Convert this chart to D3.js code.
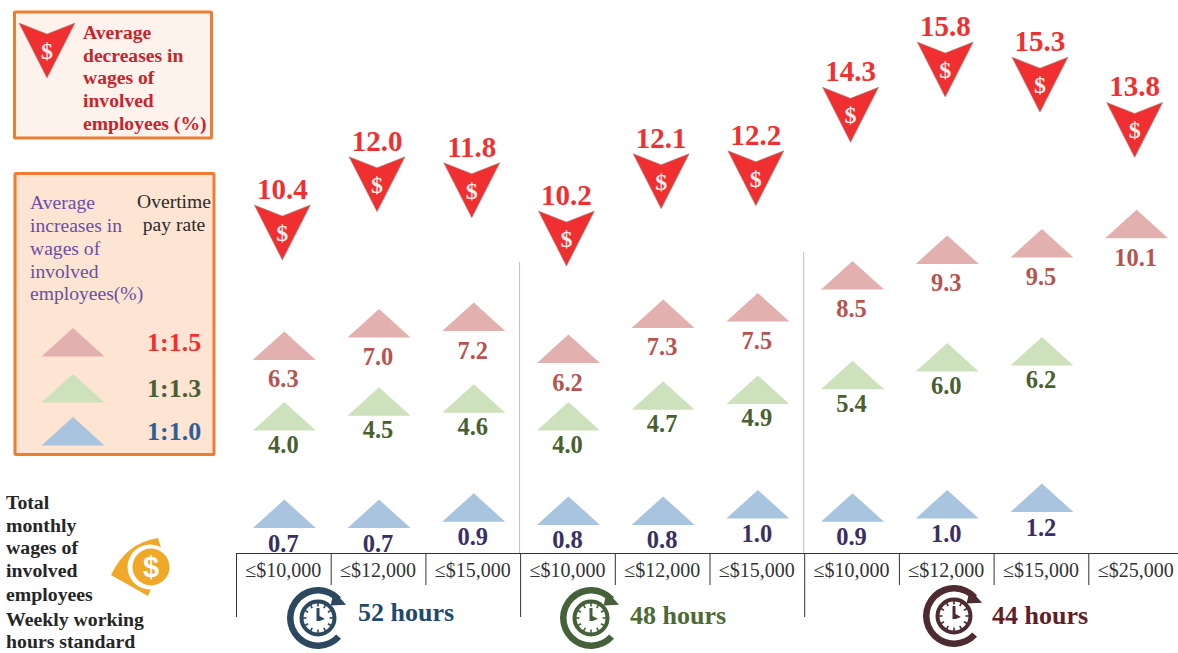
<!DOCTYPE html>
<html><head><meta charset="utf-8">
<script src="https://cdn.jsdelivr.net/npm/d3@7"></script>
<style>html,body{margin:0;padding:0;background:#fff;overflow:hidden}svg{display:block}text{font-family:"Liberation Serif",serif}</style>
</head><body><div id="c"></div>
<script>
const wageLimits = ["≤$10,000","≤$12,000","≤$15,000","≤$10,000","≤$12,000","≤$15,000","≤$10,000","≤$12,000","≤$15,000","≤$25,000"];
const decreases = [10.4,12.0,11.8,10.2,12.1,12.2,14.3,15.8,15.3,13.8];
const rate15 = [6.3,7.0,7.2,6.2,7.3,7.5,8.5,9.3,9.5,10.1];
const rate13 = [4.0,4.5,4.6,4.0,4.7,4.9,5.4,6.0,6.2,null];
const rate10 = [0.7,0.7,0.9,0.8,0.8,1.0,0.9,1.0,1.2,null];
const hourGroups = ["52 hours","48 hours","44 hours"];
const hourColors = ["#1f4a6b","#4c6a35","#5f2125"];
const iconColors = ["#2c4760","#46603a","#4e2b30"];

const W=1178,H=653;
const svg=d3.select("#c").append("svg").attr("width",W).attr("height",H);
const x=d3.scaleBand().domain(d3.range(10)).range([236,1183]);
const cx=i=>x(i)+x.bandwidth()/2;
const yRed=d3.scaleLinear().domain([0,16]).range([519,36]);
const yPink=d3.scaleLinear().domain([0,16]).range([533,21]);
const yGreen=d3.scaleLinear().domain([0,16]).range([520,48]);
const yBlue=d3.scaleLinear().domain([0,16]).range([522,10]);

const upTri="M0,0L31.5,28.5L-31.5,28.5Z";
const downArrow="M-28,0L0,11L28,0L0,55Z";

// legend boxes
svg.append("rect").attr("x",14.5).attr("y",12).attr("width",197).attr("height",126).attr("rx",1)
  .attr("fill","#fdf3ec").attr("stroke","#ed7d31").attr("stroke-width",3);
svg.append("rect").attr("x",15).attr("y",173.5).attr("width",199).attr("height",281).attr("rx",1)
  .attr("fill","#fde4d3").attr("stroke","#ed7d31").attr("stroke-width",3);

function arrow(g,tx,ty){
  const a=g.append("g").attr("transform",`translate(${tx},${ty})`);
  a.append("path").attr("d",downArrow).attr("fill","#f03030").attr("stroke","#a08a8a").attr("stroke-width",.6);
  a.append("text").attr("y",36).attr("text-anchor","middle").attr("font-size",24).attr("font-weight","bold").attr("fill","#fdeeee").text("$");
}
function lines(list,xx,ys,opt){
  list.forEach((t,i)=>{
    const e=svg.append("text").attr("x",xx).attr("y",ys[i]).attr("font-size",opt.size).attr("fill",opt.fill).text(t);
    if(opt.bold)e.attr("font-weight","bold");
    if(opt.anchor)e.attr("text-anchor",opt.anchor);
  });
}
arrow(svg,47,23);
lines(["Average","decreases in","wages of","involved","employees (%)"],83,[39,62,84,107,130],{size:19.6,fill:"#c8242c",bold:true});
lines(["Average","increases in","wages of","involved","employees(%)"],30,[209,232,255,278,300],{size:19.6,fill:"#6b4fa5"});
lines(["Overtime","pay rate"],174,[208,231],{size:19.6,fill:"#2b2b2b",anchor:"middle"});
const legend=[{f:"#e2b1af",t:"1:1.5",c:"#f03030",y:328},{f:"#cde2bc",t:"1:1.3",c:"#4a6030",y:374},{f:"#a9c4df",t:"1:1.0",c:"#2f5f95",y:417}];
legend.forEach(d=>{
  svg.append("path").attr("transform",`translate(73,${d.y})`).attr("d",upTri).attr("fill",d.f);
  svg.append("text").attr("x",147).attr("y",d.y+23).attr("font-size",26).attr("font-weight","bold").attr("fill",d.c).text(d.t);
});
lines(["Total","monthly","wages of","involved","employees"],6,[509,532,554,577,601],{size:19.8,fill:"#262626",bold:true});
lines(["Weekly working","hours standard"],6,[626,648],{size:19.8,fill:"#262626",bold:true});

// orange money icon
const money=svg.append("g");
money.append("path").attr("d","M111,575Q126,543 158,538L161,548L152,587L148,596Z").attr("fill","#f0a828");
money.append("circle").attr("cx",150).attr("cy",567).attr("r",22.5).attr("fill","#fff");
money.append("circle").attr("cx",151).attr("cy",567).attr("r",18.5).attr("fill","#f0a828");
money.append("text").attr("x",151).attr("y",577).attr("text-anchor","middle").attr("font-size",29).attr("font-weight","bold").style("font-family","'Liberation Sans',sans-serif").attr("fill","#fff").text("$");

// separators
[[3,262],[6,252]].forEach(([i,top])=>{
  svg.append("line").attr("x1",x(i)-.5).attr("x2",x(i)-.5).attr("y1",top).attr("y2",553).attr("stroke","#bdbdbd");
});

// marks
const series=[
 {v:rate15,y:yPink,f:"#e2b1af",c:"#b85450",dy:56},
 {v:rate13,y:yGreen,f:"#cde2bc",c:"#4a6030",dy:51},
 {v:rate10,y:yBlue,f:"#a9c4df",c:"#3a2f63",dy:52}];
series.forEach(s=>{
  const data=s.v.map((v,i)=>({v,i})).filter(d=>d.v!==null);
  svg.append("g").selectAll("path").data(data).join("path")
    .attr("d",upTri).attr("fill",s.f)
    .attr("transform",d=>`translate(${cx(d.i)+1},${s.y(d.v)})`);
  svg.append("g").selectAll("text").data(data).join("text")
    .attr("x",d=>cx(d.i)).attr("y",d=>s.y(d.v)+s.dy)
    .attr("text-anchor","middle").attr("font-size",24.5).attr("font-weight","bold").attr("fill",s.c)
    .text(d=>d.v.toFixed(1));
});
decreases.forEach((v,i)=>{
  arrow(svg,cx(i)-1,yRed(v));
  svg.append("text").attr("x",cx(i)-1).attr("y",yRed(v)-6).attr("text-anchor","middle")
    .attr("font-size",29).attr("font-weight","bold").attr("fill","#f03030").text(v.toFixed(1));
});

// axis
const axis=d3.axisBottom(x).tickSize(0).tickFormat(i=>wageLimits[i]);
const ax=svg.append("g").attr("transform","translate(0,553)").call(axis);
ax.select(".domain").attr("stroke","#333").attr("stroke-width",1);
ax.selectAll("text").attr("y",24).attr("dy",0).attr("font-size",20).attr("fill","#333").style("font-family","'Liberation Serif',serif");
d3.range(10).forEach(i=>{
  const major=i%3===0&&i<9;
  svg.append("line").attr("x1",x(i)+.5).attr("x2",x(i)+.5).attr("y1",553).attr("y2",major?617:585).attr("stroke","#333");
});

// clocks
function clock(c,px,py){
  const g=svg.append("g").attr("transform",`translate(${px},${py})`);
  const rad=Math.PI/180;
  g.append("path").attr("d",d3.arc()({innerRadius:24.5,outerRadius:31,startAngle:132*rad,endAngle:(360+48)*rad})).attr("fill",c);
  const a=48*rad, rx=27.7*Math.sin(a), ry=-27.7*Math.cos(a);
  g.append("path").attr("transform",`translate(${rx},${ry}) rotate(48)`).attr("d","M-9,-2L9,-2L-1,10Z").attr("fill",c);
  g.append("circle").attr("r",16.5).attr("fill","none").attr("stroke",c).attr("stroke-width",4);
  d3.range(12).forEach(k=>{
    g.append("line").attr("transform",`rotate(${k*30})`).attr("y1",-15).attr("y2",-11.5).attr("stroke",c).attr("stroke-width",1.6);
  });
  g.append("path").attr("d","M-1.5,-10L1.5,-10L1.5,-2L7,1L1.5,3L-1.5,3Z").attr("fill",c);
}
[[318,618,358,621],[591,618,630,624],[954,616,992,624]].forEach((p,i)=>{
  clock(iconColors[i],p[0],p[1]);
  svg.append("text").attr("x",p[2]).attr("y",p[3]).attr("font-size",26).attr("font-weight","bold").attr("fill",hourColors[i]).text(hourGroups[i]);
});
</script></body></html>
